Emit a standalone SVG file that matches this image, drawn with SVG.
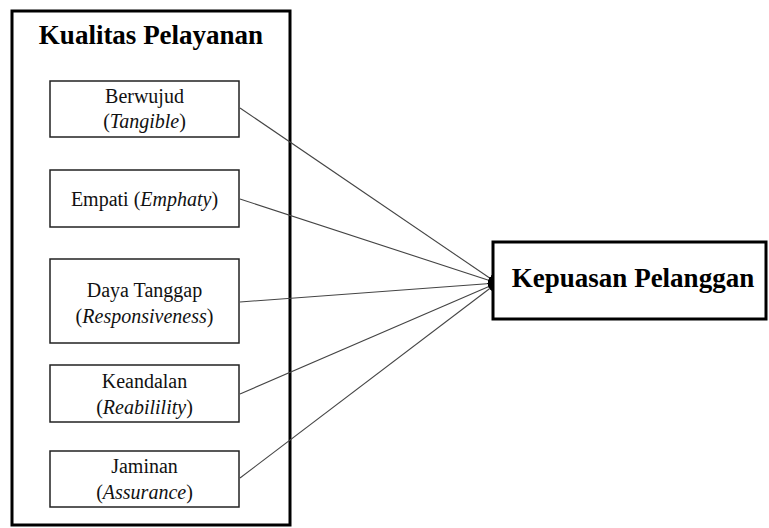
<svg xmlns="http://www.w3.org/2000/svg" width="769" height="528" viewBox="0 0 769 528">
<defs>
<style>
.outer{fill:none;stroke:#000;stroke-width:3}
.box{fill:#fff;stroke:#222;stroke-width:1.5}
.big{fill:#fff;stroke:#000;stroke-width:3}
.t{font-family:"Liberation Serif","Times New Roman",serif;font-size:20px;fill:#111;text-anchor:middle}
.h{font-family:"Liberation Serif","Times New Roman",serif;font-size:27px;font-weight:bold;fill:#000;text-anchor:middle}
.c{fill:none;stroke:#444;stroke-width:1.1}
</style>
<marker id="ah" markerWidth="9" markerHeight="8" refX="9" refY="4" orient="auto" markerUnits="userSpaceOnUse">
<path d="M0,0 L9,4 L0,8 Z" fill="#000"/>
</marker>
</defs>
<rect width="769" height="528" fill="#fff"/>
<g id="kualitas-pelayanan">
<rect class="outer" x="12" y="11" width="278" height="514"/>
<text class="h" x="151" y="44">Kualitas Pelayanan</text>
</g>
<g id="connectors">
<line class="c" x1="240" y1="108" x2="497" y2="283" marker-end="url(#ah)"/>
<line class="c" x1="240" y1="199" x2="497" y2="283" marker-end="url(#ah)"/>
<line class="c" x1="240" y1="302" x2="497" y2="283" marker-end="url(#ah)"/>
<line class="c" x1="240" y1="394" x2="497" y2="283" marker-end="url(#ah)"/>
<line class="c" x1="240" y1="478" x2="497" y2="283" marker-end="url(#ah)"/>
</g>
<g id="berwujud">
<rect class="box" x="50" y="81" width="189" height="56"/>
<text class="t" x="144.5" y="103">Berwujud</text>
<text class="t" x="144.5" y="128">(<tspan font-style="italic">Tangible</tspan>)</text>
</g>
<g id="empati">
<rect class="box" x="50" y="170" width="189" height="57"/>
<text class="t" x="144.5" y="206">Empati (<tspan font-style="italic">Emphaty</tspan>)</text>
</g>
<g id="daya-tanggap">
<rect class="box" x="50" y="259" width="189" height="84"/>
<text class="t" x="144.5" y="297">Daya Tanggap</text>
<text class="t" x="144.5" y="323">(<tspan font-style="italic">Responsiveness</tspan>)</text>
</g>
<g id="keandalan">
<rect class="box" x="50" y="365" width="189" height="57"/>
<text class="t" x="144.5" y="388">Keandalan</text>
<text class="t" x="144.5" y="414">(<tspan font-style="italic">Reabilility</tspan>)</text>
</g>
<g id="jaminan">
<rect class="box" x="50" y="451" width="189" height="56"/>
<text class="t" x="144.5" y="473">Jaminan</text>
<text class="t" x="144.5" y="499">(<tspan font-style="italic">Assurance</tspan>)</text>
</g>
<g id="kepuasan-pelanggan">
<rect class="big" x="493" y="242" width="273" height="77"/>
<text class="h" x="633" y="287">Kepuasan Pelanggan</text>
</g>
</svg>
